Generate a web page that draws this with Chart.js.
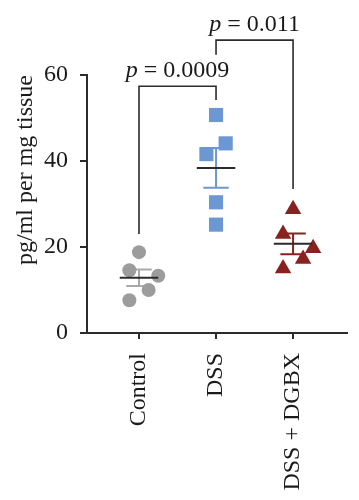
<!DOCTYPE html>
<html>
<head>
<meta charset="utf-8">
<script src="https://cdn.jsdelivr.net/npm/chart.js@4/dist/chart.umd.min.js"></script>
<style>
  html, body { margin: 0; padding: 0; background: #ffffff; }
  #wrap { width: 359px; height: 500px; position: relative; }
</style>
</head>
<body>
<div id="wrap"><canvas id="c" width="359" height="500"></canvas></div>
<script>
// ---- data ----
const categories = ['Control', 'DSS', 'DSS + DGBX'];
const yTicks = [0, 20, 40, 60];
const yTitle = 'pg/ml per mg tissue';

// per-point horizontal jitter (in category units) and values
const controlX = [0, -0.125, 0.25, 0.125, -0.125];
const controlY = [18.8, 14.6, 13.3, 10.0, 7.6];
const dssX = [0, 0.125, -0.125, 0, 0];
const dssY = [50.7, 44.1, 41.6, 30.4, 25.2];
const dgbxX = [0, -0.13, 0.26, 0.13, -0.13];
const dgbxY = [28.8, 23.0, 19.7, 17.2, 15.0];

// significance brackets
const bracketFrom = [0, 1];
const bracketTo = [1, 2];
const bracketTop = [57.4, 68.1];
const bracketLeftEnd = [23.0, 64.7];
const bracketRightEnd = [54.2, 33.5];
const bracketPValues = ['0.0009', '0.011'];

// ---- styling ----
const FONT = "'Liberation Serif', 'DejaVu Serif', serif";
const AXIS = '#2b2b2b';
const pointColors = ['#9c9c9c', '#6b97d2', '#8a2121'];
const errColors = ['#a9a9a9', '#6b97d2', '#8a2121'];

function toPoints(xs, ys, idx) {
  return ys.map((y, i) => ({ x: idx + xs[i], y: y }));
}
function mean(a) { return a.reduce((s, v) => s + v, 0) / a.length; }
function sem(a) {
  const m = mean(a);
  const sd = Math.sqrt(a.reduce((s, v) => s + (v - m) * (v - m), 0) / (a.length - 1));
  return sd / Math.sqrt(a.length);
}
const groups = [controlY, dssY, dgbxY];

const errorPlugin = {
  id: 'errorBars',
  beforeDatasetsDraw(chart) {
    const ctx = chart.ctx, xs = chart.scales.x, ys = chart.scales.y;
    ctx.save();
    ctx.lineWidth = 2;
    groups.forEach((g, i) => {
      const m = mean(g), s = sem(g);
      const xc = xs.getPixelForValue(i);
      const capL = xs.getPixelForValue(i - 0.165), capR = xs.getPixelForValue(i + 0.165);
      const yt = ys.getPixelForValue(m + s), yb = ys.getPixelForValue(m - s);
      ctx.strokeStyle = errColors[i];
      ctx.beginPath();
      ctx.moveTo(xc, yt); ctx.lineTo(xc, yb);
      ctx.moveTo(capL, yt); ctx.lineTo(capR, yt);
      ctx.moveTo(capL, yb); ctx.lineTo(capR, yb);
      ctx.stroke();
    });
    ctx.restore();
  },
  afterDatasetsDraw(chart) {
    const ctx = chart.ctx, xs = chart.scales.x, ys = chart.scales.y;
    ctx.save();
    ctx.lineWidth = 2;
    ctx.strokeStyle = AXIS;
    groups.forEach((g, i) => {
      const m = mean(g);
      const y = ys.getPixelForValue(m);
      ctx.beginPath();
      ctx.moveTo(xs.getPixelForValue(i - 0.25), y);
      ctx.lineTo(xs.getPixelForValue(i + 0.25), y);
      ctx.stroke();
    });
    // brackets
    ctx.lineWidth = 1.6;
    bracketFrom.forEach((f, i) => {
      const x1 = xs.getPixelForValue(f), x2 = xs.getPixelForValue(bracketTo[i]);
      const yt = ys.getPixelForValue(bracketTop[i]);
      ctx.beginPath();
      ctx.moveTo(x1, ys.getPixelForValue(bracketLeftEnd[i]));
      ctx.lineTo(x1, yt);
      ctx.lineTo(x2, yt);
      ctx.lineTo(x2, ys.getPixelForValue(bracketRightEnd[i]));
      ctx.stroke();
      // label
      const pFont = 'italic 24px ' + FONT, rFont = '24px ' + FONT;
      const rest = ' = ' + bracketPValues[i];
      ctx.font = pFont; const wp = ctx.measureText('p').width;
      ctx.font = rFont; const wr = ctx.measureText(rest).width;
      const cx = (x1 + x2) / 2;
      const start = cx - (wp + wr) / 2;
      const by = yt - 9;
      ctx.fillStyle = '#1a1a1a';
      ctx.textBaseline = 'alphabetic';
      ctx.textAlign = 'left';
      ctx.font = pFont; ctx.fillText('p', start, by);
      ctx.font = rFont; ctx.fillText(rest, start + wp, by);
    });
    ctx.restore();
  }
};

new Chart(document.getElementById('c'), {
  type: 'scatter',
  data: {
    datasets: [
      { label: categories[0], data: toPoints(controlX, controlY, 0), pointStyle: 'circle', radius: 7,
        backgroundColor: pointColors[0], borderColor: pointColors[0], borderWidth: 0 },
      { label: categories[1], data: toPoints(dssX, dssY, 1), pointStyle: 'rect', radius: 10,
        backgroundColor: pointColors[1], borderColor: pointColors[1], borderWidth: 0 },
      { label: categories[2], data: toPoints(dgbxX, dgbxY, 2), pointStyle: 'triangle', radius: 9.5,
        backgroundColor: pointColors[2], borderColor: pointColors[2], borderWidth: 0 }
    ]
  },
  options: {
    responsive: false,
    animation: false,
    clip: false,
    layout: { padding: { top: 75, right: 12, bottom: 0, left: 0 } },
    plugins: { legend: { display: false }, tooltip: { enabled: false } },
    scales: {
      x: {
        type: 'linear',
        min: -0.675, max: 2.70,
        afterBuildTicks(scale) { scale.ticks = categories.map((c, i) => ({ value: i })); },
        afterFit(scale) { scale.height = 167; },
        grid: { display: true, drawOnChartArea: false, drawTicks: true, tickLength: 6, color: AXIS, lineWidth: 2 },
        border: { display: true, color: AXIS, width: 2 },
        ticks: {
          callback: (v) => categories[v],
          autoSkip: false, minRotation: 90, maxRotation: 90,
          padding: 14,
          color: '#1a1a1a',
          font: { family: FONT, size: 24 }
        }
      },
      y: {
        min: 0, max: 60,
        afterBuildTicks(scale) { scale.ticks = yTicks.map(v => ({ value: v })); },
        afterFit(scale) { scale.width = 87; },
        grid: { display: true, drawOnChartArea: false, drawTicks: true, tickLength: 7, color: AXIS, lineWidth: 2 },
        border: { display: true, color: AXIS, width: 2 },
        ticks: { padding: 12, color: '#1a1a1a', font: { family: FONT, size: 24 } },
        title: {
          display: true, text: yTitle, align: 'end',
          color: '#1a1a1a', font: { family: FONT, size: 24 },
          padding: { top: 11, bottom: 0 }
        }
      }
    }
  },
  plugins: [errorPlugin]
});
</script>
</body>
</html>
